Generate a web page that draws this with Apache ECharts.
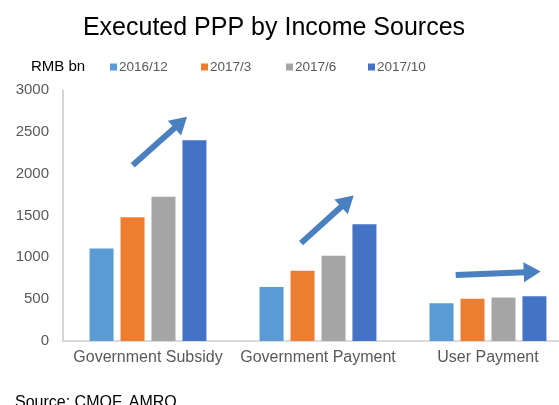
<!DOCTYPE html>
<html>
<head>
<meta charset="utf-8">
<script src="https://cdn.jsdelivr.net/npm/echarts@6/dist/echarts.min.js"></script>
<style>
  html, body { margin: 0; padding: 0; background: #fff; }
  #chart { width: 559px; height: 405px; }
</style>
</head>
<body>
<div id="chart"></div>
<script>
const categories = ['Government Subsidy', 'Government Payment', 'User Payment']
const seriesNames = ['2016/12', '2017/3', '2017/6', '2017/10']
const dec2016 = [1105, 645, 450]
const mar2017 = [1480, 840, 505]
const jun2017 = [1725, 1020, 520]
const oct2017 = [2400, 1395, 535]
const yTicks = [0, 500, 1000, 1500, 2000, 2500, 3000]

// trend arrows: [categoryIndex, xOffset (share of band), value] tail -> tip
const trendArrows = [
  [[0, -0.09, 2100], [0, 0.23, 2680]],
  [[1, -0.10, 1170], [1, 0.21, 1740]],
  [[2, -0.19, 790], [2, 0.31, 830]]
]

const colors = ['#5b9bd5', '#ed7d31', '#a5a5a5', '#4472c4']
const textGray = '#595959'
const font = 'Liberation Sans, Arial, sans-serif'
const values = [dec2016, mar2017, jun2017, oct2017]
const legendLeft = [105, 196, 281, 363]

const dom = document.getElementById('chart')
const chart = echarts.init(dom, null, { renderer: 'canvas' })

let option = {
  animation: false,
  textStyle: { fontFamily: font },
  title: [
    {
      text: 'Executed PPP by Income Sources',
      left: 269,
      textAlign: 'center',
      top: 11,
      textStyle: { fontSize: 25, fontWeight: 'normal', color: '#000', fontFamily: font }
    },
    {
      text: 'RMB bn',
      left: 26,
      top: 54,
      textStyle: { fontSize: 15, fontWeight: 'normal', color: '#000', fontFamily: font }
    },
    {
      text: 'Source: CMOF, AMRO',
      left: 10,
      top: 390,
      textStyle: { fontSize: 16, fontWeight: 'normal', color: '#000', fontFamily: font }
    }
  ],
  legend: seriesNames.map((name, i) => ({
    data: [name],
    left: legendLeft[i],
    top: 55,
    itemWidth: 7,
    itemHeight: 7,
    itemGap: 3,
    icon: 'rect',
    textStyle: { fontSize: 13.5, color: textGray, fontFamily: font, padding: [0, 0, 0, -3] }
  })),
  grid: {
    left: 63,
    top: 90,
    width: 510,
    height: 251,
    outerBoundsMode: 'none',
    containLabel: false
  },
  xAxis: {
    type: 'category',
    data: categories,
    axisLine: { lineStyle: { color: '#d0d0d0', width: 1.5 } },
    axisTick: { show: false },
    axisLabel: { fontSize: 16, color: textGray, margin: 9, interval: 0, fontFamily: font }
  },
  yAxis: {
    type: 'value',
    min: yTicks[0],
    max: yTicks[yTicks.length - 1],
    interval: 500,
    splitLine: { show: false },
    axisLine: { show: true, lineStyle: { color: '#c8c8c8', width: 1.5 } },
    axisTick: { show: false },
    axisLabel: { fontSize: 15, color: textGray, margin: 14, fontFamily: font, formatter: v => String(v) }
  },
  series: seriesNames.map((name, i) => ({
    name: name,
    type: 'bar',
    data: values[i],
    barWidth: 24,
    barGap: '29%',
    itemStyle: { color: colors[i] }
  }))
}

chart.setOption(option)

// draw trend arrows in data space
function toPx (p) {
  const band = 510 / categories.length
  const cx = chart.convertToPixel({ xAxisIndex: 0 }, p[0]) + p[1] * band
  const cy = chart.convertToPixel({ yAxisIndex: 0 }, p[2])
  return [cx, cy]
}

const arrowColor = '#4a80c0'
let graphics = []
trendArrows.forEach(a => {
  const t = toPx(a[0])
  const h = toPx(a[1])
  const dx = h[0] - t[0]
  const dy = h[1] - t[1]
  const len = Math.sqrt(dx * dx + dy * dy)
  const ux = dx / len
  const uy = dy / len
  const headLen = 17
  const headW = 10
  const bx = h[0] - ux * headLen
  const by = h[1] - uy * headLen
  graphics.push({
    type: 'line',
    shape: { x1: t[0], y1: t[1], x2: bx + ux * 2, y2: by + uy * 2 },
    style: { stroke: arrowColor, lineWidth: 6 },
    z: 10
  })
  graphics.push({
    type: 'polygon',
    shape: {
      points: [
        [h[0], h[1]],
        [bx - uy * headW, by + ux * headW],
        [bx + uy * headW, by - ux * headW]
      ]
    },
    style: { fill: arrowColor },
    z: 10
  })
})

chart.setOption({ graphic: graphics })
</script>
</body>
</html>
